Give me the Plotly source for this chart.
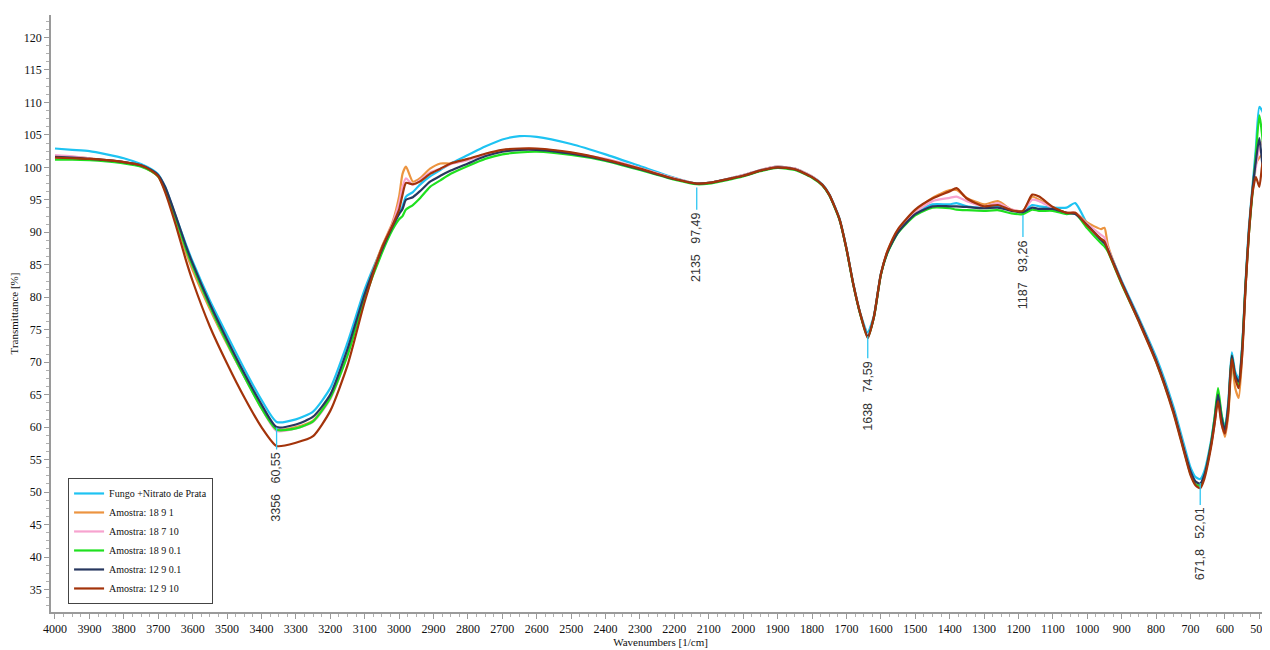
import plotly.graph_objects as go

# Wavenumbers [1/cm]
WN = [4000, 3950, 3900, 3850, 3800, 3750, 3720, 3700, 3680, 3650,
      3620, 3600, 3550, 3500, 3450, 3400, 3356, 3300, 3250, 3200,
      3150, 3100, 3050, 3020, 3000, 2990, 2980, 2960, 2940, 2910,
      2880, 2850, 2800, 2750, 2700, 2650, 2600, 2500, 2400, 2300,
      2200, 2135, 2100, 2000, 1950, 1900, 1850, 1800, 1770, 1750,
      1720, 1700, 1680, 1660, 1638, 1620, 1600, 1580, 1550, 1500,
      1450, 1400, 1380, 1350, 1300, 1260, 1220, 1187, 1160, 1140,
      1100, 1060, 1035, 1000, 960, 950, 940, 900, 850, 800,
      750, 720, 700, 685, 672, 660, 640, 630, 620, 610,
      600, 590, 580, 570, 560, 550, 540, 530, 520, 510,
      500, 490, 480, 470]

fungo = [102.9, 102.7, 102.5, 102.0, 101.4, 100.5, 99.7, 98.9, 97.0, 92.6,
         88.2, 85.5, 79.5, 74.2, 69.0, 64.2, 60.8, 61.2, 62.4, 66.0,
         73.0, 81.2, 87.6, 91.0, 93.0, 94.0, 95.5, 96.2, 97.3, 98.6,
         99.6, 100.6, 101.9, 103.2, 104.3, 104.8, 104.7, 103.6, 102.0, 100.2,
         98.4, 97.5, 97.6, 98.8, 99.6, 100.1, 99.8, 98.6, 97.4, 95.9,
         92.1, 87.6, 82.1, 77.6, 74.6, 77.2, 83.6, 87.0, 90.0, 92.9,
         94.3, 94.3, 94.5, 94.0, 93.8, 94.0, 93.4, 93.2, 94.2, 94.0,
         93.8, 93.8, 94.5, 91.3, 88.9, 88.5, 87.5, 82.5, 76.8, 70.8,
         63.2, 57.5, 53.8, 52.3, 52.0, 53.2, 58.0, 61.5, 65.2, 62.0,
         60.0, 64.0, 71.5, 68.5, 67.5, 72.5, 82.5, 91.0, 97.0, 103.0,
         109.3, 108.5, 94.0, 96.0]

a_18_9_1 = [101.7, 101.6, 101.4, 101.1, 100.8, 100.2, 99.4, 98.6, 96.5, 92.0,
            87.0, 84.2, 78.2, 72.8, 67.8, 63.0, 59.6, 60.0, 61.0, 64.6,
            71.5, 80.3, 87.8, 91.4, 95.5, 99.0, 100.1, 97.8, 98.3, 99.8,
            100.6, 100.6, 101.2, 102.0, 102.6, 102.8, 102.8, 102.2, 101.2, 99.8,
            98.3, 97.5, 97.6, 98.8, 99.6, 100.1, 99.8, 98.6, 97.3, 95.8,
            92.0, 87.5, 82.0, 77.5, 74.0, 77.0, 83.5, 87.2, 90.3, 93.2,
            95.3, 96.5, 96.5, 95.3, 94.3, 94.8, 93.5, 93.3, 95.5, 95.0,
            93.8, 93.0, 93.0, 91.5, 90.5, 90.7, 88.0, 82.3, 76.5, 70.3,
            62.6, 56.8, 53.0, 51.3, 51.0, 52.4, 57.3, 60.5, 64.5, 60.8,
            58.5, 62.0, 70.0, 66.0, 64.5, 71.0, 81.5, 90.0, 96.5, 100.5,
            101.5, 102.0, 96.0, 94.0]

a_18_7_10 = [101.9, 101.7, 101.4, 101.1, 100.8, 100.2, 99.5, 98.7, 96.8, 92.3,
             87.6, 84.8, 78.6, 73.0, 67.8, 62.9, 59.4, 59.8, 60.8, 64.3,
             71.2, 80.0, 87.5, 91.2, 94.5, 97.0, 98.3, 97.3, 98.0, 99.2,
             99.8, 100.5, 101.1, 102.0, 102.6, 102.8, 102.8, 102.2, 101.3, 99.9,
             98.3, 97.5, 97.6, 98.8, 99.6, 100.1, 99.8, 98.6, 97.3, 95.8,
             92.0, 87.5, 82.0, 77.5, 74.0, 77.0, 83.5, 87.1, 90.1, 93.0,
             94.8, 95.3, 95.5, 94.8, 94.0, 94.5, 93.5, 93.3, 95.0, 94.8,
             93.7, 93.0, 93.0, 91.3, 89.6, 89.2, 87.6, 82.3, 76.5, 70.3,
             62.6, 56.8, 53.0, 51.4, 51.1, 52.5, 57.4, 60.8, 64.8, 61.0,
             59.0, 63.0, 70.5, 67.5, 66.5, 71.5, 81.5, 90.0, 96.0, 100.0,
             103.0, 104.0, 97.0, 95.0]

a_18_9_01 = [101.2, 101.2, 101.1, 100.9, 100.6, 100.1, 99.4, 98.6, 96.6, 92.3,
             87.5, 84.8, 78.6, 73.0, 67.8, 62.9, 59.6, 59.8, 60.9, 64.5,
             71.0, 79.8, 86.8, 90.3, 92.0, 92.5, 93.5, 94.2, 95.2, 97.0,
             98.0, 99.0, 100.2, 101.3, 102.0, 102.3, 102.4, 101.9, 101.0, 99.6,
             98.1, 97.4, 97.5, 98.6, 99.4, 99.9, 99.6, 98.4, 97.2, 95.7,
             91.9, 87.4, 81.9, 77.4, 73.8, 76.9, 83.4, 86.9, 89.9, 92.6,
             93.8, 93.7, 93.5, 93.4, 93.3, 93.4, 92.9, 92.8, 93.5, 93.3,
             93.3, 92.8, 92.9, 90.6, 88.3, 87.8, 87.0, 82.0, 76.3, 70.1,
             62.4, 56.6, 52.8, 51.2, 51.0, 52.5, 57.6, 61.5, 66.0, 62.0,
             59.5, 63.0, 71.0, 67.5, 66.5, 72.0, 82.0, 90.0, 96.0, 102.0,
             108.0, 104.0, 93.0, 92.0]

a_12_9_01 = [101.6, 101.5, 101.3, 101.1, 100.8, 100.3, 99.6, 98.8, 97.0, 92.7,
             88.0, 85.2, 79.0, 73.5, 68.3, 63.5, 60.0, 60.4, 61.6, 65.0,
             72.0, 80.5, 87.3, 90.8, 92.8, 93.6, 95.0, 95.4, 96.3, 97.8,
             98.7, 99.5, 100.6, 101.7, 102.4, 102.7, 102.7, 102.1, 101.1, 99.7,
             98.2, 97.5, 97.6, 98.7, 99.5, 100.0, 99.7, 98.5, 97.3, 95.8,
             92.0, 87.5, 82.0, 77.5, 74.0, 77.0, 83.5, 87.0, 90.0, 92.8,
             94.0, 94.0, 94.0, 93.9, 93.7, 93.8, 93.3, 93.1, 93.8, 93.6,
             93.6, 93.0, 92.8, 91.1, 88.8, 88.3, 87.3, 82.3, 76.5, 70.3,
             62.6, 56.8, 53.2, 51.6, 51.3, 52.6, 57.5, 61.0, 65.0, 61.5,
             59.5, 63.5, 71.0, 68.0, 67.0, 72.0, 82.0, 90.5, 96.5, 101.0,
             104.5, 100.0, 98.0, 97.0]

a_12_9_10 = [101.5, 101.4, 101.3, 101.1, 100.8, 100.3, 99.5, 98.6, 96.2, 91.3,
             85.8, 82.5, 75.5, 69.8, 64.6, 60.0, 57.1, 57.6, 58.6, 62.5,
             69.5, 79.3, 87.6, 91.0, 93.5, 95.8, 97.6, 97.4, 97.8, 99.0,
             99.8, 100.6, 101.3, 102.1, 102.7, 102.9, 102.9, 102.3, 101.2, 99.8,
             98.2, 97.5, 97.6, 98.7, 99.5, 100.0, 99.7, 98.5, 97.3, 95.8,
             92.0, 87.5, 82.0, 77.5, 73.7, 77.0, 83.5, 87.2, 90.5, 93.5,
             95.2, 96.3, 96.8, 95.2, 94.0, 94.2, 93.4, 93.3, 95.8, 95.5,
             93.9, 93.0, 93.0, 91.0, 89.0, 88.6, 87.2, 82.1, 76.2, 70.0,
             62.2, 56.4, 52.6, 51.0, 50.6, 52.0, 57.0, 60.5, 64.0, 60.5,
             59.0, 62.5, 70.5, 67.5, 66.0, 71.0, 81.5, 90.0, 96.0, 98.5,
             97.0, 101.0, 94.0, 95.0]

SERIES_NAMES = ["Fungo +Nitrato de Prata", "Amostra: 18 9 1", "Amostra: 18 7 10",
                "Amostra: 18 9 0.1", "Amostra: 12 9 0.1", "Amostra: 12 9 10"]
SERIES = [fungo, a_18_9_1, a_18_7_10, a_18_9_01, a_12_9_01, a_12_9_10]
COLORS = ["#1ec3f2", "#ec9440", "#f7a3cf", "#1fe01f", "#27375f", "#a3330a"]

# Peak labels
PEAK_WN = [3356, 2135, 1638, 1187, 671.8]
PEAK_VAL = [60.55, 97.49, 74.59, 93.26, 52.01]
PEAK_TXT = ["3356   60,55", "2135   97,49", "1638   74,59", "1187   93,26", "671,8   52,01"]

fig = go.Figure()
for name, ys, col in zip(SERIES_NAMES, SERIES, COLORS):
    fig.add_trace(go.Scatter(x=WN, y=ys, mode="lines", name=name,
                             line=dict(color=col, width=2.2, shape="spline", smoothing=0.6)))

for wn, val, txt in zip(PEAK_WN, PEAK_VAL, PEAK_TXT):
    fig.add_shape(type="line", xref="x", yref="y", x0=wn, x1=wn,
                  y0=val - 0.6, y1=val - 4.0, line=dict(color="#2ec6f2", width=1.3))
    fig.add_annotation(x=wn, y=val - 4.1, xref="x", yref="y", text=txt, showarrow=False,
                       textangle=-90, xanchor="center", yanchor="top",
                       font=dict(family="Liberation Sans, Arial", size=12.5, color="#333333"))

serif = "Liberation Serif, Times New Roman"
axis_font = dict(family=serif, size=12, color="#111111")
fig.update_layout(
    width=1262, height=642,
    margin=dict(l=43, r=0, t=7, b=38),
    paper_bgcolor="white", plot_bgcolor="white",
    showlegend=True,
    legend=dict(x=0.014, y=0.2245, xanchor="left", yanchor="top",
                bgcolor="white", bordercolor="#444444", borderwidth=1,
                font=dict(family=serif, size=10, color="#111111"),
                itemwidth=30, tracegroupgap=0),
    xaxis=dict(range=[4011.6, 469], tickmode="linear", tick0=500, dtick=100,
               showgrid=False, zeroline=False, showline=True, linecolor="#9a9a9a", linewidth=1.5,
               ticks="outside", ticklen=5, tickcolor="#9a9a9a", tickfont=axis_font,
               minor=dict(dtick=25, ticks="outside", ticklen=3, tickcolor="#b0b0b0"),
               title=dict(text="Wavenumbers [1/cm]", font=dict(family=serif, size=11, color="#111111"), standoff=2)),
    yaxis=dict(range=[31.53, 123.46], tickmode="linear", tick0=35, dtick=5,
               showgrid=False, zeroline=False, showline=True, linecolor="#9a9a9a", linewidth=1.5,
               ticks="outside", ticklen=5, tickcolor="#9a9a9a", tickfont=axis_font,
               minor=dict(dtick=1.25, ticks="outside", ticklen=3, tickcolor="#b0b0b0"),
               title=dict(text="Transmittance [%]", font=dict(family=serif, size=11, color="#111111"), standoff=8)),
)

fig.write_html("out.html")
